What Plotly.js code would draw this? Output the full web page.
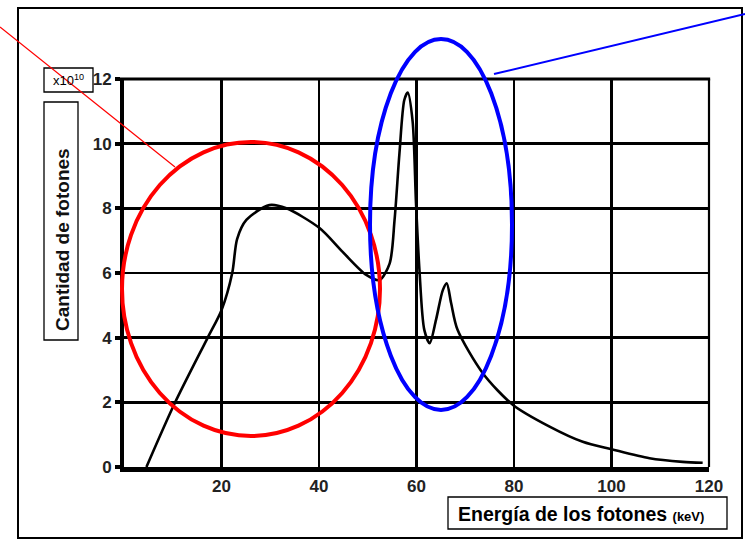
<!DOCTYPE html>
<html>
<head>
<meta charset="utf-8">
<script src="https://cdn.plot.ly/plotly-3.0.1.min.js"></script>
<style>html,body{margin:0;padding:0;background:#fff;}#chart{width:745px;height:539px;}</style>
</head>
<body>
<div id="chart"></div>
<script>
// Energy (keV) and photon count (x10^10)
const energia = [4.6, 10.4, 17.1, 20.0, 22.2, 23.2, 25.1, 29.8, 33.3, 40.1, 44.8, 49.7, 52.4, 54.5, 55.5, 56.5, 57.5, 58.2, 59.2, 59.9, 60.6, 61.6, 62.7, 64.0, 65.4, 66.2, 67.1, 68.4, 73.6, 79.8, 87.3, 94.1, 100.0, 107.8, 114.6, 118.7];
const fotones = [0, 1.97, 3.98, 4.85, 6.0, 7.05, 7.64, 8.1, 8.0, 7.39, 6.66, 5.94, 5.78, 6.3, 7.64, 9.7, 11.35, 11.58, 10.7, 8.16, 6.1, 4.24, 3.83, 4.55, 5.47, 5.68, 5.07, 4.25, 2.9, 1.92, 1.25, 0.78, 0.55, 0.27, 0.16, 0.13];
const xTicks = [20, 40, 60, 80, 100, 120];
const yTicks = [0, 2, 4, 6, 8, 10, 12];
const yTitle = "Cantidad de fotones";
const xTitle = "Energía de los fotones";
const xUnit = "(keV)";
const escala = "x10<sup>10</sup>";

const L = 124, R = 36, T = 79, B = 72, W = 745, H = 539;
const pw = W - L - R, ph = H - T - B;
const px = v => (v - L) / pw;
const py = v => (H - B - v) / ph;
const font = "'Liberation Sans', Arial, sans-serif";

const trace = {
  x: energia, y: fotones, type: 'scatter', mode: 'lines',
  line: {color: '#000', width: 2.6, shape: 'spline', smoothing: 0.8},
  hoverinfo: 'skip'
};

const shapes = [
  {type: 'rect', xref: 'paper', yref: 'paper', x0: px(18), x1: px(742), y0: py(538), y1: py(8), line: {color: '#000', width: 2}},
  {type: 'rect', xref: 'paper', yref: 'paper', x0: px(44), x1: px(78), y0: py(340), y1: py(102), line: {color: '#000', width: 1.3}},
  {type: 'rect', xref: 'paper', yref: 'paper', x0: px(44), x1: px(93), y0: py(92), y1: py(68), line: {color: '#000', width: 1.3}},
  {type: 'rect', xref: 'paper', yref: 'paper', x0: px(448), x1: px(727), y0: py(529), y1: py(497), line: {color: '#000', width: 1.3}},
  {type: 'line', xref: 'paper', yref: 'paper', x0: px(120), x1: 1.002, y0: 1, y1: 1, line: {color: '#000', width: 3}},
  {type: 'line', xref: 'paper', yref: 'paper', x0: 1, x1: 1, y0: 0, y1: 1, line: {color: '#000', width: 2.2}},
  {type: 'circle', xref: 'paper', yref: 'paper', x0: px(122), x1: px(380), y0: py(436), y1: py(142), line: {color: '#ff0000', width: 4}},
  {type: 'circle', xref: 'paper', yref: 'paper', x0: px(370), x1: px(512), y0: py(410), y1: py(39), line: {color: '#0000ff', width: 4}},
  {type: 'line', xref: 'paper', yref: 'paper', x0: px(0), x1: px(175), y0: py(27), y1: py(167), line: {color: '#ff0000', width: 1.3}},
  {type: 'line', xref: 'paper', yref: 'paper', x0: px(494), x1: px(745), y0: py(74), y1: py(14), line: {color: '#0000ff', width: 2}}
];

const annotations = [
  {xref: 'paper', yref: 'paper', x: px(62), y: py(240), text: yTitle, textangle: -90, showarrow: false,
   xanchor: 'center', yanchor: 'middle', font: {family: font, size: 19, color: '#111', weight: 'bold'}},
  {xref: 'paper', yref: 'paper', x: px(68.5), y: py(80), text: escala, showarrow: false,
   xanchor: 'center', yanchor: 'middle', font: {family: font, size: 13, color: '#000'}},
  {xref: 'paper', yref: 'paper', x: px(456), y: py(514), text: '<b>' + xTitle + '</b> <b><span style="font-size:13px">' + xUnit + '</span></b>', showarrow: false,
   xanchor: 'left', yanchor: 'middle', font: {family: font, size: 19.5, color: '#000'}}
];

const layout = {
  width: W, height: H,
  margin: {l: L, r: R, t: T, b: B, pad: 0},
  paper_bgcolor: '#fff', plot_bgcolor: '#fff',
  showlegend: false,
  xaxis: {
    range: [0, 120], tickvals: xTicks, ticktext: xTicks.map(String),
    showgrid: true, gridcolor: '#000', gridwidth: 2.2, zeroline: false,
    showline: true, linecolor: '#000', linewidth: 5, ticks: '',
    tickfont: {family: font, size: 17, color: '#222', weight: 'bold'}, fixedrange: true
  },
  yaxis: {
    range: [0, 12], tickvals: yTicks, ticktext: yTicks.map(String),
    showgrid: true, gridcolor: '#000', gridwidth: 2.6, zeroline: false,
    showline: true, linecolor: '#000', linewidth: 4,
    ticks: 'outside', ticklen: 5, tickwidth: 4, tickcolor: '#000',
    tickfont: {family: "'Liberation Sans Narrow', 'Liberation Sans', Arial, sans-serif", size: 17, color: '#222', weight: 'bold'}, fixedrange: true
  },
  shapes: shapes,
  annotations: annotations
};

Plotly.newPlot('chart', [trace], layout, {displayModeBar: false, staticPlot: true});
</script>
</body>
</html>
